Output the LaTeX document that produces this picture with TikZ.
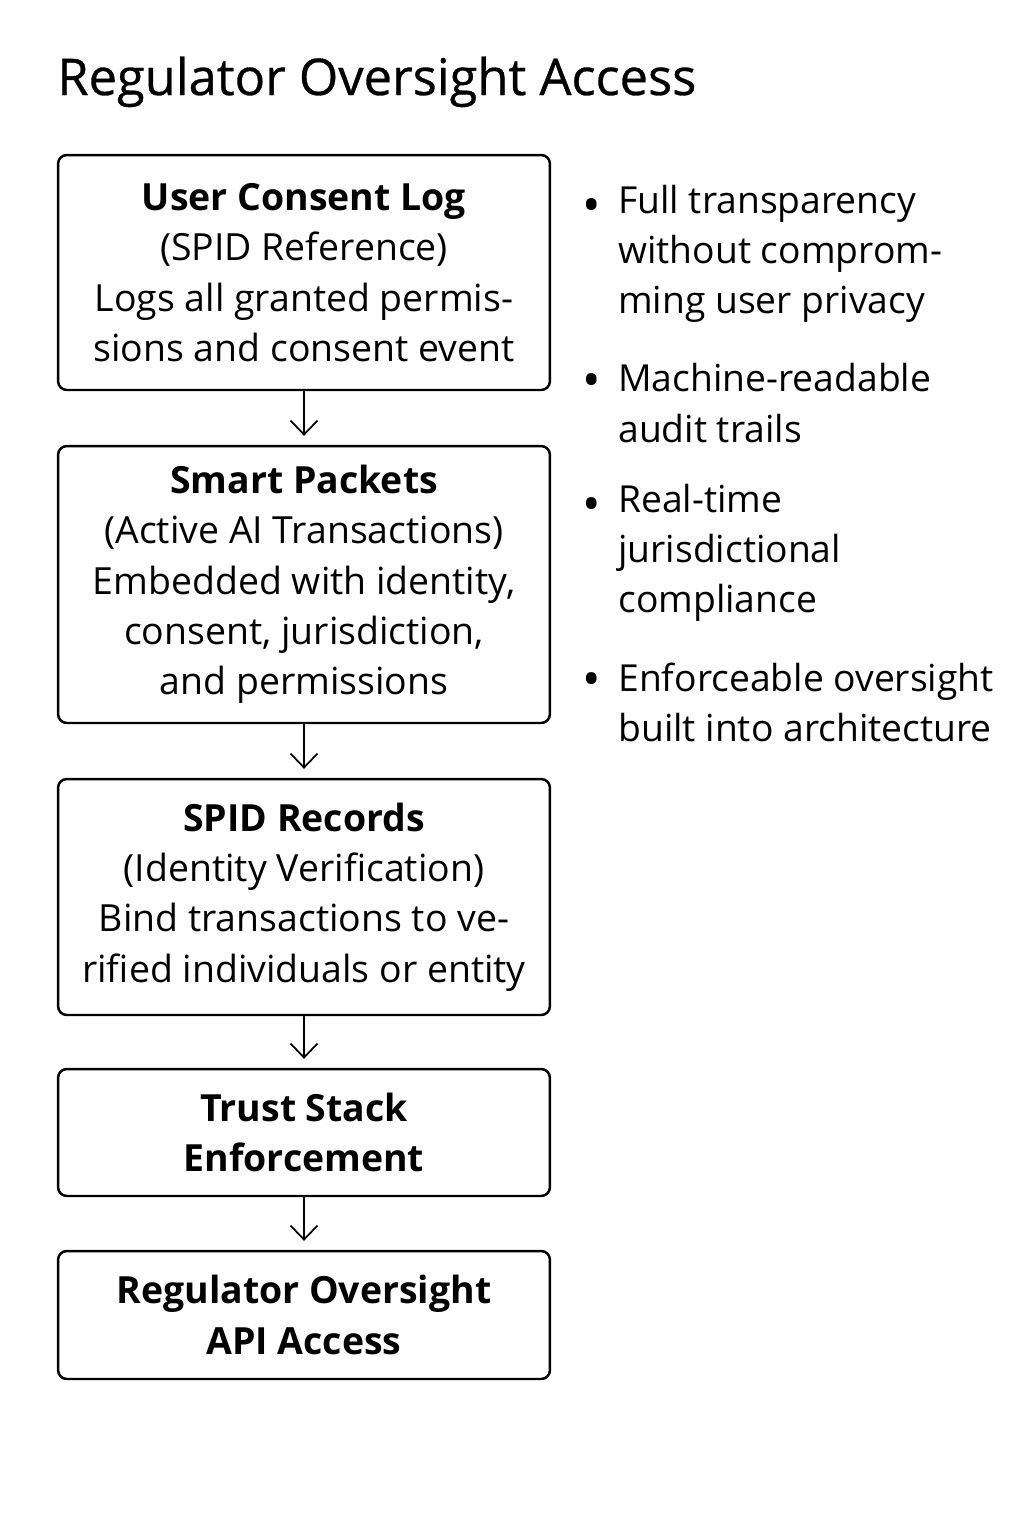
\documentclass[tikz,border=0pt]{standalone}
\usepackage{fontspec}
\setmainfont{Open Sans}
\usetikzlibrary{arrows.meta}
\begin{document}
\begin{tikzpicture}[x=0.02cm, y=-0.02cm,
    stepbox/.style={draw, line width=1.4pt, rounded corners=5pt, minimum width=9.84cm,
        align=center, font=\fontsize{21.3}{28.6}\selectfont},
    flow/.style={-{Straight Barb[length=0.28cm, width=0.54cm]}, line width=1pt, shorten >=0.18cm},
    point/.style={anchor=west, align=left, inner sep=0pt, font=\fontsize{21.2}{28.6}\selectfont},
    dot/.style={inner sep=0pt, font=\fontsize{28}{28}\selectfont}]
        % Hintergrund und Rahmen
        \fill[white] (0,0) rectangle (1024,1536);
        \useasboundingbox (0,0) rectangle (1024,1536);

        % Titel
        \node[anchor=base west, inner sep=0pt, font=\fontsize{28.8}{32}\selectfont\addfontfeature{FakeBold=0.6}] (title) at (57, 95) {Regulator Oversight Access};

        % Kette der Stufen
        \node[stepbox, minimum height=4.7cm] (consentlog) at (304, 272.5) {\textbf{User Consent Log}\\(SPID Reference)\\Logs all granted permis-\\sions and consent event};
        \node[stepbox, minimum height=5.54cm] (smartpackets) at (304, 584.5) {\textbf{Smart Packets}\\(Active AI Transactions)\\Embedded with identity,\\consent, jurisdiction,\\and permissions};
        \node[stepbox, minimum height=4.72cm] (spidrecords) at (304, 897) {\textbf{SPID Records}\\(Identity Verification)\\Bind transactions to ve-\\rified individuals or entity};
        \node[stepbox, minimum height=2.54cm] (truststack) at (304, 1132.5) {\textbf{Trust Stack}\\\textbf{Enforcement}};
        \node[stepbox, minimum height=2.56cm] (regapi) at (304, 1315) {\textbf{Regulator Oversight}\\\textbf{API Access}};

        % Pfeile zwischen den Stufen
        \draw[flow] (consentlog) -- (smartpackets);
        \draw[flow] (smartpackets) -- (spidrecords);
        \draw[flow] (spidrecords) -- (truststack);
        \draw[flow] (truststack) -- (regapi);

        % Aufzaehlung rechts
        \node[dot] (d1) at (592, 211) {•};
        \node[point] (p1) at (618, 254) {Full transparency\\without comprom-\\ming user privacy};
        \node[dot] (d2) at (592, 386) {•};
        \node[point] (p2) at (618, 403) {Machine-readable\\audit trails};
        \node[dot] (d3) at (592, 510) {•};
        \node[point] (p3) at (618, 553) {Real-time\\jurisdictional\\compliance};
        \node[dot] (d4) at (592, 685) {•};
        \node[point] (p4) at (618, 702.5) {Enforceable oversight\\built into architecture};
    \end{tikzpicture}
\end{document}
